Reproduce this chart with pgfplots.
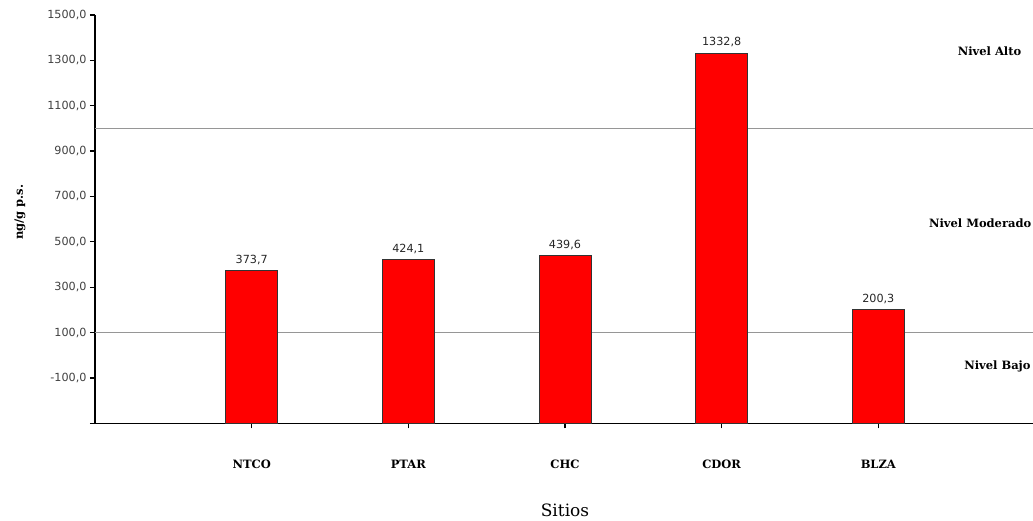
\documentclass[border=0pt]{standalone}
\usepackage{pgfplots}
\pgfplotsset{compat=1.18}
\usepackage{fontspec}
\setmainfont{DejaVu Serif}
\newfontfamily\numfont{DejaVu Sans}

\definecolor{barred}{RGB}{255,0,0}
\definecolor{levelgray}{RGB}{150,150,150}
\definecolor{ticktext}{RGB}{64,64,64}

\begin{document}
\begin{tikzpicture}
\path[use as bounding box] (0,0) rectangle (1033pt,520pt);
\begin{axis}[
  at={(95pt,96.7pt)}, anchor=south west,
  scale only axis,
  width=940pt, height=408.3pt,
  xmin=0, xmax=6,
  ymin=-300, ymax=1500,
  axis x line*=bottom, axis y line*=left,
  axis line style={-, line width=1.3pt, black},
  tick align=outside,
  major tick length=5pt,
  tick style={line width=1.2pt, black},
  xtick={1,2,3,4,5},
  xticklabels={NTCO,PTAR,CHC,CDOR,BLZA},
  xticklabel style={font=\bfseries\fontsize{11.5}{13}\selectfont, yshift=-28pt},
  ytick={-100,100,...,1500},
  extra y ticks={-300},
  extra y tick labels={},
  /pgf/number format/assume math mode=true,
  yticklabel style={font=\numfont\fontsize{11.2}{13}\selectfont, text=ticktext,
    /pgf/number format/.cd, fixed, fixed zerofill, precision=1, use comma, 1000 sep={}},
  xlabel={Sitios},
  xlabel style={font=\fontsize{17}{19}\selectfont, yshift=-28pt},
  ylabel={ng/g p.s.},
  ylabel style={font=\bfseries\fontsize{11.5}{13}\selectfont, yshift=5pt, xshift=7pt},
  clip=false,
  bar/.style={fill=barred, draw=black!80, line width=0.7pt},
]
% reference levels
\addplot[levelgray, line width=1.1pt] coordinates {(0,1000) (6,1000)};
\addplot[levelgray, line width=1.1pt] coordinates {(0,100) (6,100)};

% bars, drawn from the bottom of the axis up to each site's value
\addplot[bar] coordinates {(0.834,-300) (0.834,373.7) (1.166,373.7) (1.166,-300)} -- cycle;
\addplot[bar] coordinates {(1.834,-300) (1.834,424.1) (2.166,424.1) (2.166,-300)} -- cycle;
\addplot[bar] coordinates {(2.834,-300) (2.834,439.6) (3.166,439.6) (3.166,-300)} -- cycle;
\addplot[bar] coordinates {(3.834,-300) (3.834,1332.8) (4.166,1332.8) (4.166,-300)} -- cycle;
\addplot[bar] coordinates {(4.834,-300) (4.834,200.3) (5.166,200.3) (5.166,-300)} -- cycle;

% value labels
\addplot[only marks, mark=none,
  point meta=y,
  nodes near coords,
  nodes near coords style={font=\numfont\fontsize{11.2}{13}\selectfont, text=black!85,
    anchor=south, inner sep=2pt, yshift=3.5pt,
    /pgf/number format/.cd, fixed, fixed zerofill, precision=1, use comma, 1000 sep={}},
] coordinates {(1,373.7) (2,424.1) (3,439.6) (4,1332.8) (5,200.3)};

% level names
\node[font=\bfseries\fontsize{11.5}{13}\selectfont] at (axis cs:5.71,1341) {Nivel Alto};
\node[font=\bfseries\fontsize{11.5}{13}\selectfont] at (axis cs:5.65,583) {Nivel Moderado};
\node[font=\bfseries\fontsize{11.5}{13}\selectfont] at (axis cs:5.76,-47) {Nivel Bajo};
\end{axis}
\end{tikzpicture}
\end{document}
